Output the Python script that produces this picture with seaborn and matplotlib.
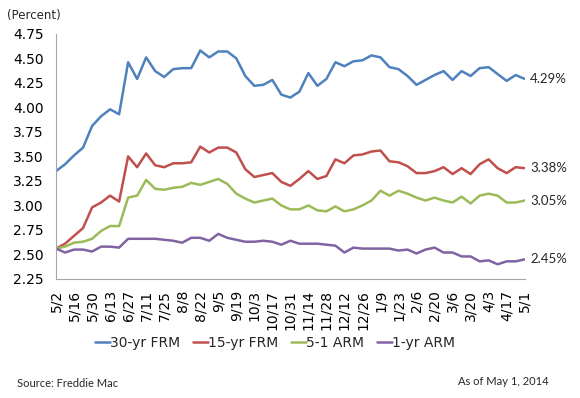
import pandas as pd
import numpy as np
import matplotlib.pyplot as plt
import seaborn as sb

# weekly Freddie Mac PMMS rates, 5/2/2013 - 5/1/2014
weeks = ["5/2", "5/9", "5/16", "5/23", "5/30", "6/6", "6/13", "6/20", "6/27", "7/4",
         "7/11", "7/18", "7/25", "8/1", "8/8", "8/15", "8/22", "8/29", "9/5", "9/12",
         "9/19", "9/26", "10/3", "10/10", "10/17", "10/24", "10/31", "11/7", "11/14",
         "11/21", "11/28", "12/5", "12/12", "12/19", "12/26", "1/2", "1/9", "1/16",
         "1/23", "1/30", "2/6", "2/13", "2/20", "2/27", "3/6", "3/13", "3/20", "3/27",
         "4/3", "4/10", "4/17", "4/24", "5/1"]

frm30 = [3.35, 3.42, 3.51, 3.59, 3.81, 3.91, 3.98, 3.93, 4.46, 4.29,
         4.51, 4.37, 4.31, 4.39, 4.40, 4.40, 4.58, 4.51, 4.57, 4.57,
         4.50, 4.32, 4.22, 4.23, 4.28, 4.13, 4.10, 4.16, 4.35, 4.22,
         4.29, 4.46, 4.42, 4.47, 4.48, 4.53, 4.51, 4.41, 4.39, 4.32,
         4.23, 4.28, 4.33, 4.37, 4.28, 4.37, 4.32, 4.40, 4.41, 4.34,
         4.27, 4.33, 4.29]
frm15 = [2.56, 2.61, 2.69, 2.77, 2.98, 3.03, 3.10, 3.04, 3.50, 3.39,
         3.53, 3.41, 3.39, 3.43, 3.43, 3.44, 3.60, 3.54, 3.59, 3.59,
         3.54, 3.37, 3.29, 3.31, 3.33, 3.24, 3.20, 3.27, 3.35, 3.27,
         3.30, 3.47, 3.43, 3.51, 3.52, 3.55, 3.56, 3.45, 3.44, 3.40,
         3.33, 3.33, 3.35, 3.39, 3.32, 3.38, 3.32, 3.42, 3.47, 3.38,
         3.33, 3.39, 3.38]
arm51 = [2.56, 2.58, 2.62, 2.63, 2.66, 2.74, 2.79, 2.79, 3.08, 3.10,
         3.26, 3.17, 3.16, 3.18, 3.19, 3.23, 3.21, 3.24, 3.27, 3.22,
         3.12, 3.07, 3.03, 3.05, 3.07, 3.00, 2.96, 2.96, 3.00, 2.95,
         2.94, 2.99, 2.94, 2.96, 3.00, 3.05, 3.15, 3.10, 3.15, 3.12,
         3.08, 3.05, 3.08, 3.05, 3.03, 3.09, 3.02, 3.10, 3.12, 3.10,
         3.03, 3.03, 3.05]
arm1 = [2.56, 2.52, 2.55, 2.55, 2.53, 2.58, 2.58, 2.57, 2.66, 2.66,
        2.66, 2.66, 2.65, 2.64, 2.62, 2.67, 2.67, 2.64, 2.71, 2.67,
        2.65, 2.63, 2.63, 2.64, 2.63, 2.60, 2.64, 2.61, 2.61, 2.61,
        2.60, 2.59, 2.52, 2.57, 2.56, 2.56, 2.56, 2.56, 2.54, 2.55,
        2.51, 2.55, 2.57, 2.52, 2.52, 2.48, 2.48, 2.43, 2.44, 2.40,
        2.43, 2.43, 2.45]

names = ["30-yr FRM", "15-yr FRM", "5-1 ARM", "1-yr ARM"]
colors = ["#4F81BD", "#C0504D", "#9BBB59", "#8064A2"]

df = pd.DataFrame({"week": np.arange(len(weeks)),
                   names[0]: frm30, names[1]: frm15, names[2]: arm51, names[3]: arm1})
long = df.melt(id_vars="week", var_name="series", value_name="rate")

sb.set_style("white")
plt.rcParams["font.family"] = ["DejaVu Sans"]

fig = plt.figure(figsize=(5.8, 3.98), dpi=100)
ax = fig.add_axes([0.0966, 0.299, 0.808, 0.616])

sb.lineplot(data=long, x="week", y="rate", hue="series", hue_order=names,
            palette=colors, linewidth=1.8, ax=ax, legend=False)

ax.set_xlim(0, len(weeks) - 1)
ax.set_ylim(2.25, 4.75)
yt = np.arange(2.25, 4.76, 0.25)
ax.set_yticks(yt)
ax.set_yticklabels([f"{v:.2f}" for v in yt], fontsize=10)
ax.set_xticks(df["week"][::2])
ax.set_xticklabels(weeks[::2], rotation=90, fontsize=10)
ax.set_xlabel("")
ax.set_ylabel("")
for s in ["top", "right"]:
    ax.spines[s].set_visible(False)
for s in ["left", "bottom"]:
    ax.spines[s].set_color("#A6A6A6")
    ax.spines[s].set_linewidth(0.8)
ax.tick_params(axis="both", direction="out", length=3, width=0.8, color="#A6A6A6",
               labelcolor="black", pad=5)
ax.tick_params(axis="y", pad=6)

# end-point labels
last = len(weeks) - 1
for vals in [frm30, frm15, arm51, arm1]:
    ax.annotate(f"{vals[-1]:.2f}%", (last, vals[-1]), xytext=(4, 0),
                textcoords="offset points", va="center", ha="left",
                fontsize=9.5, family="Lato", annotation_clip=False)

handles = [plt.Line2D([], [], color=c, lw=1.8) for c in colors]
fig.legend(handles, names, loc="center", bbox_to_anchor=(0.474, 0.138), ncol=4,
           frameon=False, fontsize=10, handlelength=1.1, handletextpad=0.0,
           columnspacing=0.9)

fig.text(0.012, 0.962, "(Percent)", fontsize=8.5, va="center", ha="left")
fig.text(0.03, 0.037, "Source: Freddie Mac", fontsize=8, family="Lato",
         va="center", ha="left")
fig.text(0.79, 0.042, "As of May 1, 2014", fontsize=8, family="Lato",
         va="center", ha="left")

fig.savefig("out.png", dpi=100)
